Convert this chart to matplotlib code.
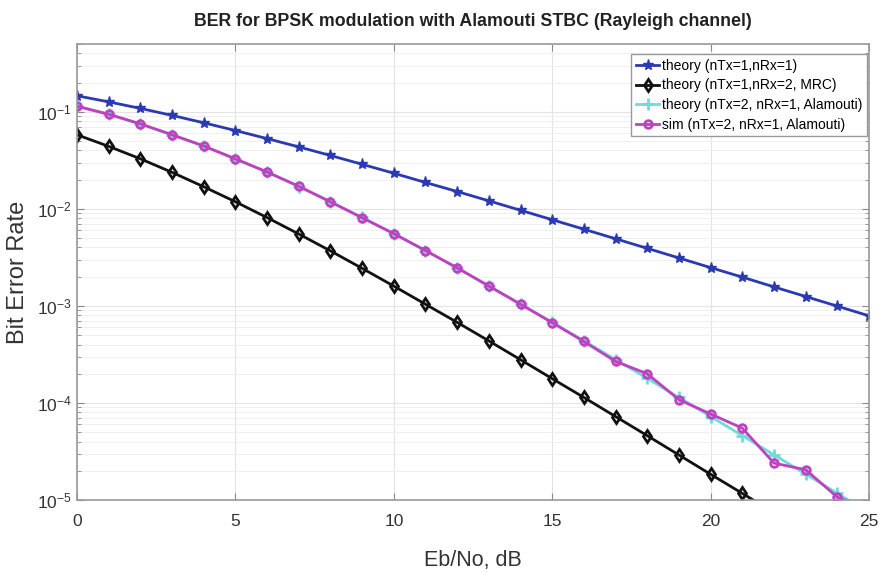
import numpy as np
import matplotlib
matplotlib.use("Agg")
import matplotlib.pyplot as plt
from matplotlib.ticker import LogLocator, NullFormatter

plt.rcParams['font.family'] = ['Liberation Sans', 'DejaVu Sans']
plt.rcParams['mathtext.default'] = 'regular'

# Eb/No in dB
eb_no_db = [0, 1, 2, 3, 4, 5, 6, 7, 8, 9, 10, 11, 12, 13, 14, 15, 16, 17, 18, 19, 20, 21, 22, 23, 24, 25]

# BER curves
ber_theory_1x1 = [0.1464, 0.1267, 0.1085, 0.0919, 0.0771, 0.0642, 0.0530, 0.0435, 0.0355, 0.0288,
                  0.0233, 0.0187, 0.0151, 0.0121, 0.00967, 0.00773, 0.00617, 0.00492, 0.00392, 0.00312,
                  0.00248, 0.00198, 0.00157, 0.00125, 0.000994, 0.000790]
ber_theory_mrc = [0.0580, 0.0441, 0.0328, 0.0238, 0.0169, 0.01184, 0.00813, 0.00551, 0.00369, 0.00244,
                  0.00160, 0.00104, 0.000677, 0.000436, 0.000279, 0.000178, 0.000114, 7.24e-5, 4.60e-5, 2.91e-5,
                  1.84e-5, 1.17e-5, 7.4e-6, 4.7e-6, 3.0e-6, 1.9e-6]
ber_theory_alamouti = [0.1151, 0.0939, 0.0748, 0.0582, 0.0442, 0.0329, 0.0239, 0.0170, 0.01187, 0.00816,
                       0.00553, 0.00370, 0.00245, 0.00161, 0.001046, 0.000677, 0.000437, 0.000280, 0.000179, 0.000114,
                       7.25e-5, 4.61e-5, 2.92e-5, 1.85e-5, 1.17e-5, 7.4e-6]
ber_sim_alamouti = [0.1140, 0.0945, 0.0752, 0.0580, 0.0445, 0.0327, 0.0240, 0.0171, 0.0118, 0.00810,
                    0.00556, 0.00372, 0.00247, 0.00160, 0.00104, 0.000672, 0.000430, 0.000268, 0.000200, 0.000108,
                    7.7e-5, 5.5e-5, 2.4e-5, 2.05e-5, 1.07e-5, 8.0e-6]

fig = plt.figure(figsize=(8.82, 5.73), dpi=100)
ax = fig.add_axes([0.0873, 0.1274, 0.8980, 0.7958])

ax.semilogy(eb_no_db, ber_theory_1x1, '-', color='#2b3ab0', lw=2, marker='*', ms=8,
            label='theory (nTx=1,nRx=1)')
ax.semilogy(eb_no_db, ber_theory_mrc, '-', color='#111111', lw=2, marker='d', ms=6,
            mfc='none', mew=2, label='theory (nTx=1,nRx=2, MRC)')
ax.semilogy(eb_no_db, ber_theory_alamouti, '-', color='#6fdcd8', lw=2, marker='+', ms=8,
            mew=2, label='theory (nTx=2, nRx=1, Alamouti)')
ax.semilogy(eb_no_db, ber_sim_alamouti, '-', color='#c040c0', lw=2, marker='o', ms=5.5,
            mfc='none', mew=2, label='sim (nTx=2, nRx=1, Alamouti)')

ax.set_xlim(0, 25)
ax.set_ylim(1e-5, 0.5)
ax.set_xticks([0, 5, 10, 15, 20, 25])
ax.yaxis.set_major_locator(LogLocator(base=10, numticks=10))
ax.yaxis.set_minor_locator(LogLocator(base=10, subs=np.arange(2, 10), numticks=20))
ax.yaxis.set_minor_formatter(NullFormatter())

ax.grid(True, which='major', color='#e3e3e3', lw=0.8)
ax.grid(True, which='minor', axis='y', color='#efefef', lw=0.7)
ax.set_axisbelow(True)
ax.tick_params(which='both', direction='in', top=True, right=True, colors='#888888',
               labelcolor='#333333', labelsize=12.5)
ax.tick_params(axis='x', pad=10)
ax.tick_params(which='major', length=5)
ax.tick_params(which='minor', length=3)
for s in ax.spines.values():
    s.set_color('#999999')
    s.set_linewidth(1.2)

ax.set_title('BER for BPSK modulation with Alamouti STBC (Rayleigh channel)',
             fontsize=12.8, fontweight='bold', pad=13, color='#222222')
ax.set_xlabel('Eb/No, dB', fontsize=15.5, color='#333333', labelpad=15)
ax.set_ylabel('Bit Error Rate', fontsize=17, color='#333333', labelpad=6)

leg = ax.legend(loc='upper right', bbox_to_anchor=(0.998, 0.978), borderaxespad=0,
                fontsize=10, handlelength=1.7, handletextpad=0.2, borderpad=0.35,
                labelspacing=0.4, fancybox=False, framealpha=1, edgecolor='#999999')
leg.get_frame().set_linewidth(1.0)

fig.savefig('out.png', dpi=100)
